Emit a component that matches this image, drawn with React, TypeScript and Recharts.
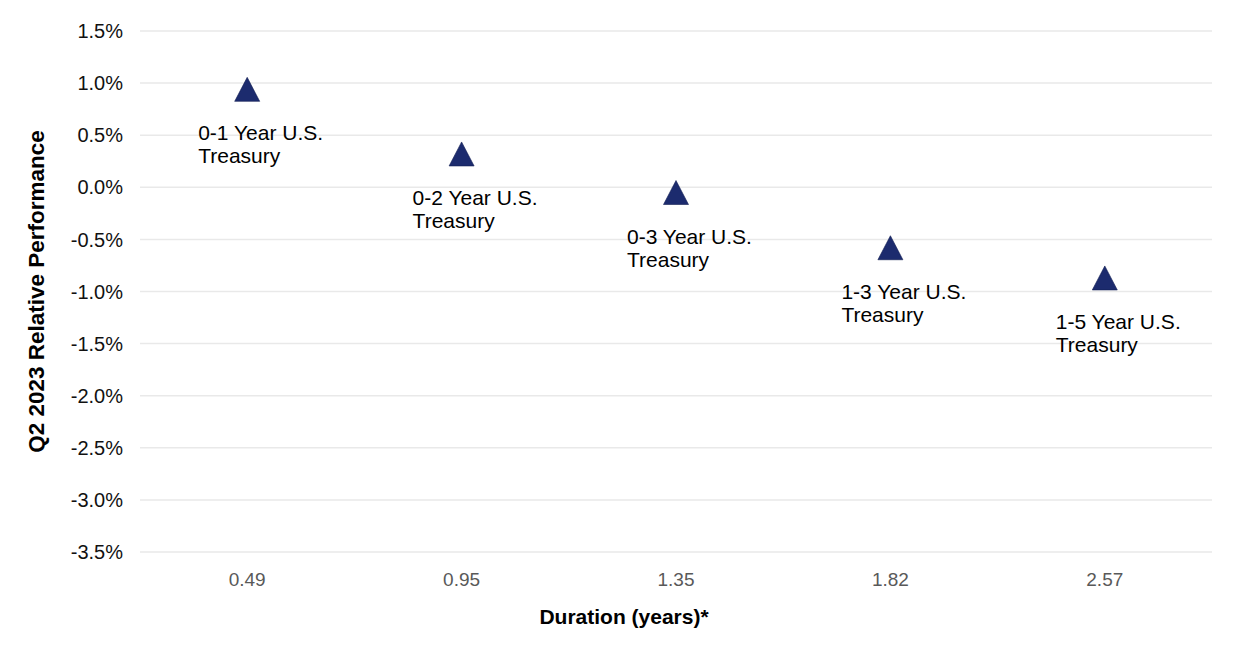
import React from 'react';
import {
  ScatterChart,
  Scatter,
  XAxis,
  YAxis,
  CartesianGrid,
  LabelList,
} from 'recharts';

// duration (years) on the x axis
const durations = ['0.49', '0.95', '1.35', '1.82', '2.57'];
const funds = [
  '0-1 Year U.S. Treasury',
  '0-2 Year U.S. Treasury',
  '0-3 Year U.S. Treasury',
  '1-3 Year U.S. Treasury',
  '1-5 Year U.S. Treasury',
];
// Q2 2023 relative performance, in %
const performance = [0.94, 0.32, -0.05, -0.58, -0.87];
const yTicks = [-3.5, -3.0, -2.5, -2.0, -1.5, -1.0, -0.5, 0.0, 0.5, 1.0, 1.5];

const FONT = '"Liberation Sans", Arial, sans-serif';
const NAVY = '#1c2b6e';

const chartData = durations.map((d, i) => ({
  duration: d,
  value: performance[i],
  name: funds[i],
}));

const Triangle = (props: any) => {
  const { cx, cy } = props;
  if (cx == null || cy == null) return null;
  const w = 25;
  const h = 24;
  return (
    <path
      d={`M${cx},${cy - h / 2} L${cx + w / 2},${cy + h / 2} L${cx - w / 2},${cy + h / 2} Z`}
      fill={NAVY}
      stroke="#101c52"
      strokeWidth={0.6}
    />
  );
};

const FundLabel = (props: any) => {
  const { x, y, width, height, value } = props;
  if (x == null || y == null) return null;
  const cx = x + (width || 0) / 2;
  const cy = y + (height || 0) / 2;
  const words = String(value).split(' ');
  const line1 = words.slice(0, 3).join(' ');
  const line2 = words.slice(3).join(' ');
  return (
    <text x={cx - 49} y={cy + 51} fontFamily={FONT} fontSize={21} fill="#000">
      <tspan x={cx - 49}>{line1}</tspan>
      <tspan x={cx - 49} dy={23}>{line2}</tspan>
    </text>
  );
};

const XTitle = (props: any) => {
  const { viewBox } = props;
  const cx = viewBox.x + viewBox.width / 2 - 52;
  return (
    <text
      x={cx}
      y={624}
      textAnchor="middle"
      fontFamily={FONT}
      fontSize={21}
      fontWeight="bold"
      fill="#000"
    >
      Duration (years)*
    </text>
  );
};

export default function App() {
  return (
    <div style={{ width: 1238, height: 648, background: '#fff' }}>
      <style>{`body{margin:0;}`}</style>
      <ScatterChart
        width={1238}
        height={648}
        data={chartData}
        margin={{ top: 31, right: 26, bottom: 0, left: 0 }}
      >
        <CartesianGrid vertical={false} stroke="#e9e9e9" strokeWidth={1.5} />
        <XAxis
          dataKey="duration"
          type="category"
          allowDuplicatedCategory={false}
          axisLine={false}
          tickLine={false}
          height={96}
          tickMargin={15}
          tick={{ fontFamily: FONT, fontSize: 19, fill: '#595959' }}
          label={<XTitle />}
        />
        <YAxis
          dataKey="value"
          type="number"
          domain={[-3.5, 1.5]}
          ticks={yTicks}
          interval={0}
          width={140}
          axisLine={false}
          tickLine={false}
          tickMargin={11}
          tickFormatter={(v: number) => `${v.toFixed(1)}%`}
          tick={{ fontFamily: FONT, fontSize: 20, fill: '#111' }}
          label={{
            value: 'Q2 2023 Relative Performance',
            angle: -90,
            position: 'insideLeft',
            offset: 36,
            style: {
              textAnchor: 'middle',
              fontFamily: FONT,
              fontSize: 22.5,
              fontWeight: 'bold',
              fill: '#000',
            },
          }}
        />
        <Scatter
          data={chartData}
          dataKey="value"
          shape={<Triangle />}
          isAnimationActive={false}
        >
          <LabelList dataKey="name" content={<FundLabel />} />
        </Scatter>
      </ScatterChart>
    </div>
  );
}
